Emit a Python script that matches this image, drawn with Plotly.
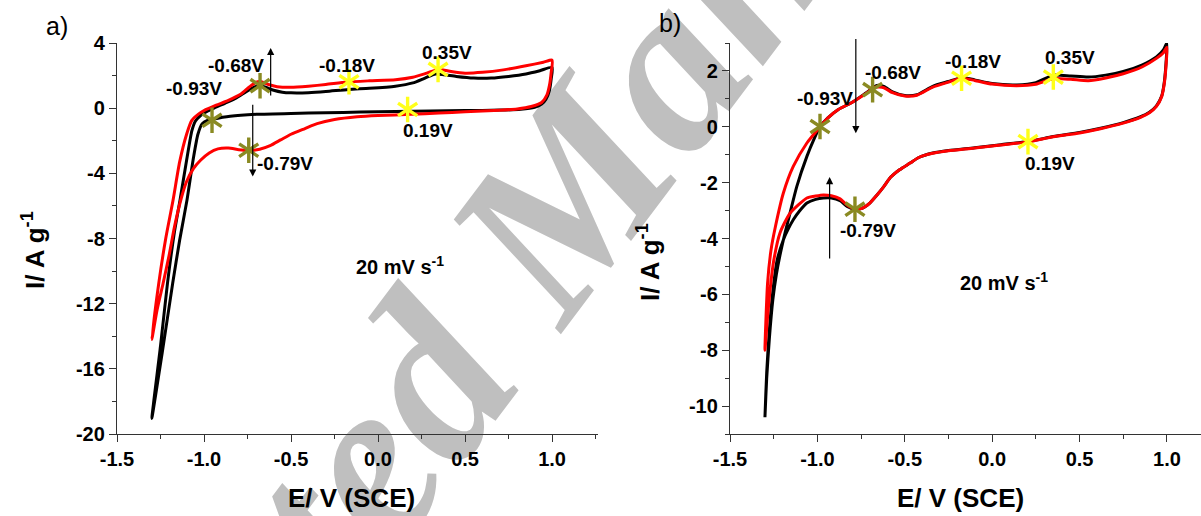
import plotly.graph_objects as go

# ---------------- data: panel a ----------------
a_black_E = [-1.30, -1.25, -1.21, -1.17, -1.138, -1.10, -1.07, -1.05, -1.02, -1.0, -0.94, -0.88, -0.82, -0.76,
             -0.72, -0.685, -0.65, -0.60, -0.55, -0.50, -0.40, -0.30, -0.17, -0.05, 0.10, 0.20, 0.27, 0.33,
             0.38, 0.45, 0.55, 0.65, 0.75, 0.85, 0.93, 1.0,
             0.995, 0.985, 0.965, 0.94, 0.90, 0.82, 0.70, 0.50, 0.30, 0.10, -0.10, -0.30, -0.50, -0.70,
             -0.85, -0.95, -0.98, -1.01, -1.035, -1.06, -1.098, -1.14, -1.18, -1.24, -1.30]
a_black_I = [-19.05, -14.6, -10.75, -7.6, -5.65, -3.2, -1.4, -0.8, -0.45, -0.3, 0.02, 0.3, 0.6, 1.0,
             1.25, 1.38, 1.3, 1.1, 0.98, 0.94, 0.95, 1.02, 1.15, 1.22, 1.35, 1.55, 1.85, 2.1,
             2.05, 1.95, 1.85, 1.85, 1.95, 2.1, 2.3, 2.5,
             1.8, 1.1, 0.55, 0.25, 0.05, -0.07, -0.12, -0.15, -0.18, -0.2, -0.24, -0.28, -0.32, -0.38,
             -0.5, -0.68, -0.75, -0.95, -1.6, -3.0, -5.65, -8.1, -10.75, -15.0, -19.05]

a_red_E = [-1.30, -1.26, -1.22, -1.178, -1.14, -1.10, -1.07, -1.03, -1.0, -0.93, -0.86, -0.79, -0.74,
           -0.70, -0.67, -0.63, -0.58, -0.50, -0.40, -0.30, -0.18, -0.05, 0.10, 0.20, 0.28, 0.35, 0.42,
           0.50, 0.60, 0.72, 0.85, 0.95, 1.0,
           0.995, 0.985, 0.97, 0.94, 0.88, 0.80, 0.70, 0.50, 0.35, 0.19, 0.0, -0.12, -0.25, -0.35, -0.42,
           -0.50, -0.56, -0.62, -0.68, -0.745, -0.80, -0.86, -0.92, -0.97, -1.02, -1.06, -1.10, -1.13,
           -1.17, -1.20, -1.235, -1.27, -1.30]
a_red_I = [-14.2, -10.75, -8.0, -5.65, -3.3, -1.6, -0.75, -0.35, -0.15, 0.18, 0.48, 0.85, 1.3,
           1.6, 1.62, 1.45, 1.32, 1.28, 1.35, 1.45, 1.6, 1.68, 1.75, 1.9, 2.15, 2.38, 2.25,
           2.15, 2.2, 2.35, 2.6, 2.82, 2.95,
           2.2, 1.4, 0.8, 0.35, 0.1, -0.05, -0.13, -0.22, -0.3, -0.38, -0.45, -0.53, -0.7, -0.95, -1.25,
           -1.6, -1.95, -2.3, -2.52, -2.6, -2.55, -2.45, -2.5, -2.75, -3.2, -3.7, -4.5, -5.5,
           -7.3, -9.0, -10.75, -12.4, -14.2]

a_blue_E = [1.0, 0.992, 0.98]
a_blue_I = [2.5, 1.7, 1.0]

# peak markers (panel a)
a_olive_E = [-0.954, -0.678, -0.743]
a_olive_I = [-0.74, 1.38, -2.58]
a_yellow_E = [-0.167, 0.345, 0.17]
a_yellow_I = [1.62, 2.38, -0.08]

a_label_text = ["-0.93V", "-0.68V", "-0.18V", "0.35V", "0.19V", "-0.79V"]
a_label_E = [-1.06, -0.816, -0.178, 0.394, 0.287, -0.534]
a_label_I = [1.23, 2.64, 2.64, 3.44, -1.35, -3.38]

# ---------------- data: panel b ----------------
b_black_E = [-1.30, -1.29, -1.275, -1.255, -1.235, -1.214, -1.185, -1.157, -1.118, -1.06, -1.02, -0.985,
             -0.94, -0.88, -0.80, -0.72, -0.66, -0.62, -0.57, -0.50, -0.43, -0.34, -0.25, -0.175, -0.10,
             0.0, 0.14, 0.25, 0.35, 0.45, 0.55, 0.65, 0.75, 0.86, 0.94, 0.98, 1.0,
             0.995, 0.985, 0.97, 0.94, 0.90, 0.846, 0.75, 0.62, 0.50, 0.35, 0.205, 0.05, -0.10, -0.25,
             -0.34, -0.42, -0.47, -0.53, -0.58, -0.62, -0.66, -0.70, -0.745, -0.785, -0.83, -0.87, -0.92,
             -0.966, -1.01, -1.06, -1.10, -1.138, -1.17, -1.195, -1.23, -1.255, -1.275, -1.29, -1.30]
b_black_I = [-10.4, -9.0, -7.6, -6.2, -5.3, -4.6, -3.8, -3.1, -2.14, -1.06, -0.45, 0.0,
             0.32, 0.62, 0.88, 1.22, 1.48, 1.45, 1.25, 1.12, 1.15, 1.45, 1.62, 1.76, 1.68,
             1.55, 1.5, 1.58, 1.85, 1.82, 1.78, 1.85, 1.98, 2.22, 2.5, 2.75, 3.0,
             2.3, 1.6, 1.1, 0.75, 0.52, 0.35, 0.15, -0.05, -0.2, -0.35, -0.53, -0.64, -0.75, -0.85,
             -0.94, -1.1, -1.3, -1.54, -1.8, -2.14, -2.45, -2.73, -2.92, -2.95, -2.85, -2.65, -2.55,
             -2.55, -2.6, -2.73, -3.0, -3.33, -3.7, -4.05, -4.77, -5.9, -7.3, -8.8, -10.4]

b_red_E = [-1.30, -1.285, -1.265, -1.24, -1.195, -1.138, -1.06, -0.985,
           -0.94, -0.88, -0.80, -0.72, -0.67, -0.62, -0.57, -0.50, -0.43, -0.34, -0.25, -0.175, -0.10,
           0.0, 0.14, 0.25, 0.35, 0.45, 0.55, 0.65, 0.75, 0.86, 0.94, 0.98, 1.0,
           0.995, 0.985, 0.97, 0.94, 0.90, 0.846, 0.75, 0.62, 0.50, 0.35, 0.205, 0.05, -0.10, -0.25,
           -0.34, -0.42, -0.47, -0.53, -0.58, -0.62, -0.66, -0.70, -0.745, -0.785, -0.83, -0.87, -0.92,
           -0.966, -1.01, -1.06, -1.157, -1.214, -1.25, -1.27, -1.285, -1.30]
b_red_I = [-8.0, -5.6, -4.4, -3.57, -2.38, -1.42, -0.58, 0.0,
           0.32, 0.62, 0.88, 1.2, 1.42, 1.4, 1.22, 1.1, 1.13, 1.42, 1.6, 1.74, 1.66,
           1.53, 1.47, 1.52, 1.72, 1.7, 1.65, 1.75, 1.9, 2.15, 2.45, 2.65, 2.85,
           2.2, 1.55, 1.08, 0.73, 0.5, 0.33, 0.13, -0.07, -0.22, -0.36, -0.54, -0.65, -0.76, -0.86,
           -0.95, -1.1, -1.3, -1.54, -1.8, -2.14, -2.45, -2.73, -2.92, -2.95, -2.8, -2.58, -2.47,
           -2.44, -2.48, -2.55, -3.1, -3.8, -4.8, -5.8, -6.8, -8.0]

b_olive_E = [-0.985, -0.684, -0.785]
b_olive_I = [0.01, 1.33, -2.95]
b_yellow_E = [-0.175, 0.35, 0.205]
b_yellow_I = [1.74, 1.78, -0.53]

b_label_text = ["-0.93V", "-0.68V", "-0.18V", "0.35V", "0.19V", "-0.79V"]
b_label_px = [825, 893, 973, 1070, 1050, 868]
b_label_py = [98, 72, 62, 58, 163, 230]

# arrows: (x, tail_y, head_y)
a_arrows = [(-0.617, 0.68, 3.7), (-0.72, 0.3, -4.2)]
b_arrows = [(-0.78, 3.2, -0.23), (-0.93, -4.77, -1.8)]

x_tickvals = [-1.5, -1.0, -0.5, 0.0, 0.5, 1.0]
x_ticktext = ["-1.5", "-1.0", "-0.5", "0.0", "0.5", "1.0"]
ya_tickvals = [-20, -16, -12, -8, -4, 0, 4]
ya_ticktext = ["-20", "-16", "-12", "-8", "-4", "0", "4"]
yb_tickvals = [-10, -8, -6, -4, -2, 0, 2]
yb_ticktext = ["-10", "-8", "-6", "-4", "-2", "0", "2"]

W, H = 1201, 516
OLIVE = "#8a8a22"
YELLOW = "#ffff1a"

fig = go.Figure()

def add_panel(xa, ya, black_E, black_I, red_E, red_I, olE, olI, yeE, yeI):
    fig.add_trace(go.Scatter(x=black_E, y=black_I, mode="lines", line=dict(color="black", width=3, shape="spline", smoothing=0.6),
                             xaxis=xa, yaxis=ya, showlegend=False, hoverinfo="skip"))
    fig.add_trace(go.Scatter(x=red_E, y=red_I, mode="lines", line=dict(color="#ff0000", width=3, shape="spline", smoothing=0.6),
                             xaxis=xa, yaxis=ya, showlegend=False, hoverinfo="skip"))
    for E, I, col in ((olE, olI, OLIVE), (yeE, yeI, YELLOW)):
        for sym in ("y-up-open", "y-down-open"):
            fig.add_trace(go.Scatter(x=E, y=I, mode="markers",
                                     marker=dict(symbol=sym, size=16, color=col, line=dict(color=col, width=3.4)),
                                     xaxis=xa, yaxis=ya, showlegend=False, hoverinfo="skip"))

fig.add_trace(go.Scatter(x=a_blue_E, y=a_blue_I, mode="lines", line=dict(color="#2020ff", width=2),
                         xaxis="x", yaxis="y", showlegend=False, hoverinfo="skip"))
add_panel("x", "y", a_black_E, a_black_I, a_red_E, a_red_I, a_olive_E, a_olive_I, a_yellow_E, a_yellow_I)
add_panel("x2", "y2", b_black_E, b_black_I, b_red_E, b_red_I, b_olive_E, b_olive_I, b_yellow_E, b_yellow_I)

tickfont = dict(family="Liberation Sans", size=20, color="black", weight="bold")
axcommon = dict(showline=True, linecolor="#333333", linewidth=1.4, ticks="outside", ticklen=7, tickwidth=1.3,
                tickcolor="#333333", showgrid=False, zeroline=False, tickfont=tickfont, automargin=False,
                fixedrange=True)

fig.update_layout(
    width=W, height=H, margin=dict(l=0, r=0, t=0, b=0),
    paper_bgcolor="white", plot_bgcolor="rgba(0,0,0,0)",
    xaxis=dict(domain=[117 / W, 598 / W], range=[-1.5, 1.264], anchor="y", tickmode="array",
               tickvals=x_tickvals, ticktext=x_ticktext,
               minor=dict(tickmode="linear", tick0=-1.5, dtick=0.25, ticks="outside", ticklen=4, tickcolor="#333333"),
               **axcommon),
    yaxis=dict(domain=[1 - 434 / H, 1 - 43 / H], range=[-20, 4], anchor="x", tickmode="array",
               tickvals=ya_tickvals, ticktext=ya_ticktext,
               minor=dict(tickmode="linear", tick0=-20, dtick=2, ticks="outside", ticklen=4, tickcolor="#333333"),
               **axcommon),
    xaxis2=dict(domain=[730 / W, 1.0], range=[-1.5, 1.195], anchor="y2", tickmode="array",
                tickvals=x_tickvals, ticktext=x_ticktext,
                minor=dict(tickmode="linear", tick0=-1.5, dtick=0.25, ticks="outside", ticklen=4, tickcolor="#333333"),
                **axcommon),
    yaxis2=dict(domain=[1 - 434 / H, 1 - 43 / H], range=[-11, 3], anchor="x2", tickmode="array",
                tickvals=yb_tickvals, ticktext=yb_ticktext,
                minor=dict(tickmode="linear", tick0=-11, dtick=1, ticks="outside", ticklen=4, tickcolor="#333333"),
                **axcommon),
)

# watermark placed below the plot content
wm_cx, wm_cy = 536 / W, 1 - 192 / H
fig.add_shape(type="rect", xref="paper", yref="paper", x0=wm_cx - 0.001, x1=wm_cx + 0.001,
              y0=wm_cy - 0.001, y1=wm_cy + 0.001, line=dict(width=0), fillcolor="rgba(0,0,0,0)", layer="below",
              label=dict(text="Accepted Manuscript", textangle=-53, textposition="middle center",
                         font=dict(family="Liberation Serif", size=236, color="#bfbfbf", style="italic",
                                   weight="bold")))

ann = []
lab_font = dict(family="Liberation Sans", size=19, color="black", weight="bold")
for t, x, y in zip(a_label_text, a_label_E, a_label_I):
    ann.append(dict(x=x, y=y, xref="x", yref="y", text=t, showarrow=False, font=lab_font,
                    xanchor="center", yanchor="middle"))
for t, px, py in zip(b_label_text, b_label_px, b_label_py):
    ann.append(dict(x=px / W, y=1 - py / H, xref="paper", yref="paper", text=t, showarrow=False, font=lab_font,
                    xanchor="center", yanchor="middle"))

for (x, ty, hy) in a_arrows:
    ann.append(dict(x=x, y=hy, ax=x, ay=ty, xref="x", yref="y", axref="x", ayref="y", text="", showarrow=True,
                    arrowhead=2, arrowsize=1.2, arrowwidth=1.2, arrowcolor="black"))
for (x, ty, hy) in b_arrows:
    ann.append(dict(x=x, y=hy, ax=x, ay=ty, xref="x2", yref="y2", axref="x2", ayref="y2", text="", showarrow=True,
                    arrowhead=2, arrowsize=1.2, arrowwidth=1.2, arrowcolor="black"))

def paper_text(px, py, text, font, angle=0):
    return dict(x=px / W, y=1 - py / H, xref="paper", yref="paper", text=text, showarrow=False, font=font,
                textangle=angle, xanchor="center", yanchor="middle")

title_font = dict(family="Liberation Sans", size=26, color="black", weight="bold")
ann.append(paper_text(351, 498, "E/ V (SCE)", title_font))
ann.append(paper_text(960, 498, "E/ V (SCE)", title_font))
ann.append(paper_text(33, 250, "I/ A g<sup>-1</sup>", title_font, -90))
ann.append(paper_text(648, 262, "I/ A g<sup>-1</sup>", title_font, -90))

rate_font = dict(family="Liberation Sans", size=20, color="black", weight="bold")
ann.append(paper_text(400, 265, "20 mV s<sup>-1</sup>", rate_font))
ann.append(paper_text(1004, 281, "20 mV s<sup>-1</sup>", rate_font))

panel_font = dict(family="Liberation Sans", size=25, color="black")
ann.append(paper_text(57, 26, "a)", panel_font))
ann.append(paper_text(670, 23, "b)", panel_font))

fig.update_layout(annotations=ann)
fig.write_html("out.html")
